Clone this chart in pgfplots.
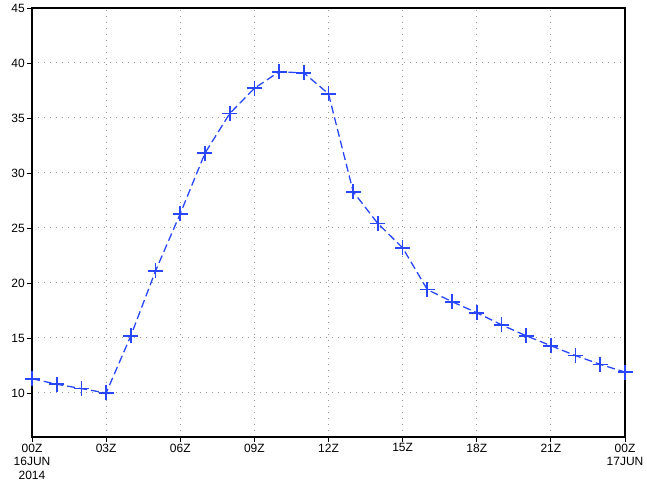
\documentclass[border=0pt]{standalone}
\usepackage{pgfplots}
\pgfplotsset{compat=1.18}
\usepackage{fontspec}
\setmainfont{Liberation Sans}
\definecolor{lineblue}{RGB}{40,70,250}
\begin{document}
\begin{tikzpicture}
\path[use as bounding box] (-32pt,-44pt) rectangle (615pt,437pt);
\begin{axis}[
  scale only axis, width=593pt, height=429pt,
  xmin=0, xmax=24, ymin=6, ymax=45,
  xtick={0,3,...,24},
  xticklabels={{00Z\\16JUN\\2014},03Z,06Z,09Z,12Z,15Z,18Z,21Z,{00Z\\17JUN}},
  xticklabel style={align=center, font=\fontsize{12}{13.5}\selectfont, inner sep=1.5pt},
  ytick={10,15,...,45},
  yticklabels={10,15,20,25,30,35,40,45},
  yticklabel style={font=\fontsize{12}{14}\selectfont, inner sep=2pt},
  tick align=outside, xtick pos=bottom, ytick pos=left,
  major tick length=5pt,
  tick style={black, line width=0.8pt},
  grid=major, grid style={black!40, line width=1pt, dash pattern=on 1pt off 5pt},
  axis line style={line width=1.5pt},
]
\addplot[color=lineblue, line width=1.3pt, dash pattern=on 8pt off 4pt,
  mark=+, mark size=7.5pt, mark options={solid, line width=1.7pt}]
  coordinates {
  (0,11.3) (1,10.8) (2,10.4) (3,10.0) (4,15.2) (5,21.1) (6,26.3) (7,31.8)
  (8,35.4) (9,37.7) (10,39.2) (11,39.1) (12,37.2) (13,28.3) (14,25.4)
  (15,23.2) (16,19.4) (17,18.3) (18,17.3) (19,16.2) (20,15.2) (21,14.3)
  (22,13.4) (23,12.6) (24,11.9)
  };
\end{axis}
\end{tikzpicture}
\end{document}
